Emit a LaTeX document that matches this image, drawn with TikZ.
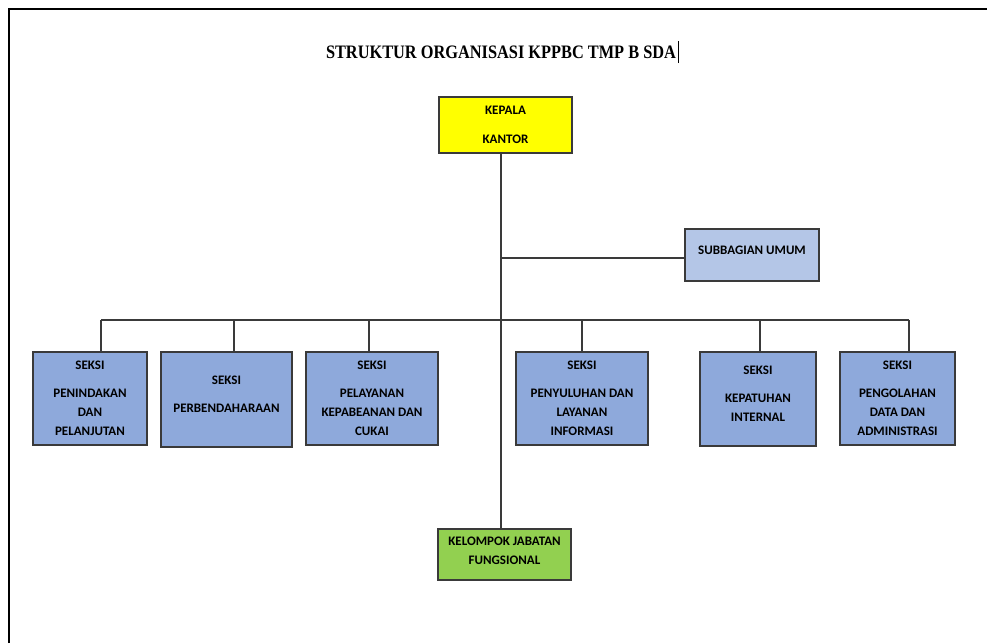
\documentclass[tikz,border=0pt]{standalone}
\usepackage{fontspec}
\usetikzlibrary{positioning}
\setmainfont{Liberation Serif}
\newfontfamily\boxfont{Carlito}
\definecolor{kepalacolor}{HTML}{FFFF00}
\definecolor{subbagcolor}{HTML}{B4C6E7}
\definecolor{seksicolor}{HTML}{8EA9DB}
\definecolor{jabatancolor}{HTML}{92D050}
\definecolor{linecolor}{HTML}{3A3A3A}

\begin{document}
\begin{tikzpicture}[
  x=1pt, y=-1pt,
  unit/.style={rectangle, draw=linecolor, line width=1.3pt, inner sep=0pt,
               align=center, font=\boxfont\bfseries\fontsize{13}{19}\selectfont},
  seksi/.style={unit, fill=seksicolor, minimum height=93pt},
  link/.style={draw=linecolor, line width=1.1pt}
]
  \useasboundingbox (0,0) rectangle (987,643);
  \draw[line width=2pt] (9,643) -- (9,9) -- (987,9);

  \node[font=\bfseries\fontsize{19}{20}\selectfont, inner sep=0pt] (title) at (501,52)
        {\addfontfeature{FakeStretch=0.86}STRUKTUR ORGANISASI KPPBC TMP B SDA};
  \draw[line width=0.8pt] ([xshift=2pt,yshift=-11pt]title.east) -- ([xshift=2pt,yshift=11pt]title.east);

  \node[unit, fill=kepalacolor, minimum width=133pt, minimum height=56pt,
        font=\boxfont\bfseries\fontsize{13}{29}\selectfont] (kepala) at (505.5,125) {KEPALA\\KANTOR};
  \node[unit, fill=subbagcolor, minimum width=134pt, minimum height=52pt] (subbag) at (752,255)
        {SUBBAGIAN UMUM\\[-9pt]};
  \node[unit, fill=jabatancolor, minimum width=133pt, minimum height=51pt] (jabatan) at (504.5,554.5)
        {KELOMPOK JABATAN\\FUNGSIONAL\\[-12pt]};

  \node[seksi, minimum width=114pt] (penindakan) at (90,398.5)
        {SEKSI\\[9pt]PENINDAKAN\\DAN\\PELANJUTAN};
  \node[seksi, minimum width=131pt, minimum height=95pt] (perbendaharaan) at (226.5,399.5)
        {SEKSI\\[9pt]PERBENDAHARAAN\\[-8pt]};
  \node[seksi, minimum width=132pt] (pelayanan) at (372,398.5)
        {SEKSI\\[9pt]PELAYANAN\\KEPABEANAN DAN\\CUKAI};
  \node[seksi, minimum width=132pt] (penyuluhan) at (582,398.5)
        {SEKSI\\[9pt]PENYULUHAN DAN\\LAYANAN\\INFORMASI};
  \node[seksi, minimum width=116pt, minimum height=94pt] (kepatuhan) at (758,399)
        {SEKSI\\[9pt]KEPATUHAN\\INTERNAL\\[-8pt]};
  \node[seksi, minimum width=115pt] (pengolahan) at (897.5,398.5)
        {SEKSI\\[9pt]PENGOLAHAN\\DATA DAN\\ADMINISTRASI};

  % trunk and bus
  \coordinate (trunk) at (501,320);
  \coordinate (dropA) at (101,320);
  \coordinate (dropB) at (234,320);
  \coordinate (dropC) at (369,320);
  \coordinate (dropD) at (582,320);
  \coordinate (dropE) at (760,320);
  \coordinate (dropF) at (909,320);

  \draw[link] (kepala.south -| trunk) -- (jabatan.north -| trunk);
  \draw[link] ([yshift=-3pt]subbag.west) -- ([yshift=-3pt]subbag.west -| trunk);
  \draw[link] (dropA) -- (dropF);

  \draw[link] (dropA) -- (penindakan.north -| dropA);
  \draw[link] (dropB) -- (perbendaharaan.north -| dropB);
  \draw[link] (dropC) -- (pelayanan.north -| dropC);
  \draw[link] (dropD) -- (penyuluhan.north -| dropD);
  \draw[link] (dropE) -- (kepatuhan.north -| dropE);
  \draw[link] (dropF) -- (pengolahan.north -| dropF);
\end{tikzpicture}
\end{document}
